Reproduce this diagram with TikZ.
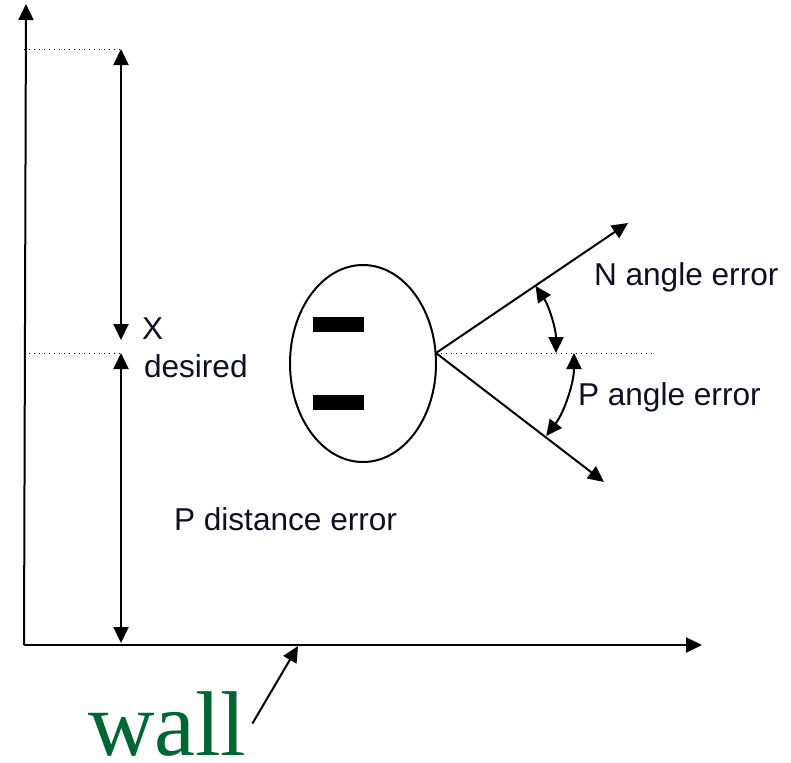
\documentclass[tikz,border=0pt]{standalone}
\usepackage{fontspec}
\setmainfont{Liberation Sans}
\newfontfamily\wallfont{Liberation Serif}
\usetikzlibrary{arrows.meta}
\definecolor{wallgreen}{RGB}{0,102,51}
\definecolor{txtcol}{RGB}{12,16,32}

\begin{document}
\begin{tikzpicture}[x=0.5pt, y=-0.5pt, >={Triangle[length=8pt,width=7.5pt]}, line width=1pt, every node/.style={font=\fontsize{15.8}{18}\selectfont, text=txtcol, inner sep=0pt}]
\tikzstyle{lbl}=[anchor=base west]
\tikzstyle{guide}=[dotted, line width=0.5pt]
\tikzstyle{bar}=[fill=black, minimum width=25.5pt, minimum height=7.5pt]
\useasboundingbox (0,0) rectangle (791,762);
% axes
\coordinate (O) at (24,645);
\coordinate (ytop) at (26,4);
\coordinate (xend) at (702,645);
\draw[->] (O) -- (ytop);
\draw[->] (O) -- (xend);
% desired distance
\coordinate (gtop) at (24,49);
\coordinate (xtop) at (121,49);
\coordinate (xmid) at (121,340);
\coordinate (gmid) at (24,353);
\coordinate (dmid) at (121,353);
\coordinate (dbot) at (121,643);
\draw[guide] (gtop) -- (xtop);
\draw[guide] (gmid) -- (dmid);
\draw[<->] (xtop) -- (xmid);
\draw[<->] (dmid) -- (dbot);
\node[lbl] (xlab) at (141,339) {X};
\node[lbl] (deslab) at (143,377) {desired};
\node[lbl] (distlab) at (173,530) {P distance error};
% robot
\draw (363,363.5) ellipse [x radius=73, y radius=98.5];
\node[bar] (eye1) at (338.5,324.5) {};
\node[bar] (eye2) at (338.5,402.5) {};
% heading and angle errors
\coordinate (apex) at (436,353);
\coordinate (nend) at (628,223);
\coordinate (pend) at (604,482);
\coordinate (hend) at (653,353);
\draw[->] (apex) -- (nend);
\draw[->] (apex) -- (pend);
\draw[guide] (apex) -- (hend);
\coordinate (na) at (535.5,285.9);
\coordinate (pa) at (574,353);
\draw[<->] (na) arc[start angle=34, end angle=0, radius=60pt];
\draw[<->] (pa) arc[start angle=0, end angle=-37, radius=69pt];
\node[lbl] (nlab) at (593,285) {N angle error};
\node[lbl] (plab) at (577,405) {P angle error};
% wall
\node[lbl, text=wallgreen, font=\wallfont\fontsize{46}{50}\selectfont] (wall) at (87,755) {wall};
\coordinate (wallpt) at (298,646);
\draw[->] ([xshift=2.5pt]wall.east) -- (wallpt);
\end{tikzpicture}
\end{document}
